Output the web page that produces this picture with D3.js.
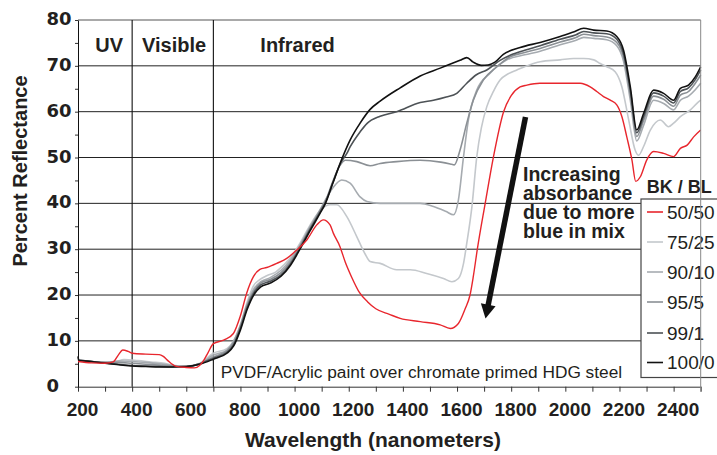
<!DOCTYPE html>
<html><head><meta charset="utf-8">
<script src="https://cdn.jsdelivr.net/npm/d3@7"></script>
<style>body{margin:0;background:#fff;} svg{display:block;}</style>
</head><body><svg id="c" width="717" height="455"></svg>
<script>
// ---------- DATA ----------
const seriesNames = ["50/50", "75/25", "90/10", "95/5", "99/1", "100/0"];
const seriesColors = ["#e8262d", "#c4c8cc", "#a6abb0", "#8b9095", "#4d5256", "#111111"];
const xTicks = d3.range(200, 2501, 100);
const xTickLabels = [200, 400, 600, 800, 1000, 1200, 1400, 1600, 1800, 2000, 2200, 2400];
const yTicks = d3.range(0, 81, 5);
const yTickLabels = [0, 10, 20, 30, 40, 50, 60, 70, 80];
const yGridValues = [10, 20, 30, 40, 50, 60, 70, 80];
const regionLines = [400, 700];
const regionNames = ["UV", "Visible", "Infrared"];
const regionCenters = [315, 555, 1011];
const noteLines = ["Increasing", "absorbance", "due to more", "blue in mix"];

const bl5050 = [[200,5.5],[250,5.2],[300,5.1],[330,5.4],[350,7.0],[365,8.0],[385,7.7],[400,7.3],[450,7.1],[500,7.0],[515,6.6],[530,5.8],[560,4.5],[600,4.2],[630,4.1],[650,4.7],[665,5.8],[680,7.4],[700,9.4],[740,10.2],[774,11.6],[799,15.3],[823,20.4],[848,24.0],[872,25.6],[897,26.0],[934,26.9],[971,28.0],[1008,29.8],[1045,32.0],[1082,35.3],[1106,36.4],[1131,35.3],[1143,33.5],[1168,30.5],[1187,27.2],[1210,24.0],[1240,20.5],[1270,18.5],[1300,17.0],[1350,15.8],[1390,14.9],[1464,14.2],[1538,13.5],[1575,12.7],[1605,13.8],[1630,17.0],[1648,20.0],[1660,24.0],[1675,30.0],[1704,40.0],[1734,50.0],[1772,60.0],[1800,63.5],[1833,65.4],[1858,65.8],[1906,66.2],[1981,66.2],[2055,66.2],[2092,65.4],[2116,64.4],[2141,63.3],[2166,62.5],[2190,61.5],[2209,58.9],[2227,54.5],[2246,49.5],[2260,44.8],[2277,45.8],[2301,49.5],[2326,51.3],[2363,50.9],[2400,50.2],[2425,52.0],[2450,52.7],[2474,54.5],[2500,56.0]];

const bl7525 = [[200,5.7],[250,5.4],[300,5.2],[340,5.5],[370,5.9],[420,5.7],[470,5.4],[520,5.1],[560,4.6],[600,4.4],[650,5.1],[700,7.3],[750,8.3],[775,10.0],[800,13.5],[825,18.5],[848,22.0],[870,23.3],[897,24.2],[930,25.0],[959,26.5],[990,28.5],[1020,31.3],[1045,34.0],[1069,36.4],[1100,38.8],[1131,39.7],[1156,39.7],[1193,37.1],[1230,32.7],[1260,29.0],[1279,27.3],[1316,26.9],[1377,25.5],[1427,25.5],[1488,24.7],[1550,23.6],[1581,22.9],[1605,23.6],[1624,26.9],[1636,31.3],[1655,39.3],[1673,50.2],[1690,56.5],[1710,61.1],[1735,64.5],[1759,66.9],[1790,68.3],[1821,69.1],[1882,70.5],[1907,70.9],[1981,71.3],[2030,71.6],[2068,71.6],[2105,71.3],[2129,70.5],[2153,69.8],[2184,68.7],[2209,65.4],[2234,58.2],[2258,51.6],[2271,50.5],[2289,52.4],[2314,56.0],[2351,58.2],[2381,56.7],[2400,57.5],[2425,58.9],[2462,60.4],[2486,61.8],[2500,62.5]];

const bl9010 = [[200,5.8],[250,5.5],[300,5.3],[350,5.6],[400,5.5],[450,5.3],[500,5.0],[550,4.6],[600,4.4],[650,5.0],[700,6.9],[750,8.0],[775,10.0],[800,13.4],[825,18.1],[850,21.4],[875,22.9],[910,23.8],[950,25.4],[985,27.7],[1020,30.9],[1057,34.9],[1094,38.6],[1120,41.4],[1143,43.5],[1174,45.1],[1205,44.4],[1242,41.4],[1267,40.4],[1316,40.0],[1390,40.0],[1464,40.0],[1513,39.3],[1560,38.2],[1587,37.5],[1605,40.7],[1624,50.2],[1642,58.2],[1673,64.7],[1722,68.4],[1784,71.3],[1850,72.4],[1907,73.2],[1981,74.6],[2040,75.6],[2068,76.2],[2105,76.0],[2153,75.7],[2190,74.4],[2215,71.0],[2240,62.5],[2264,53.6],[2289,57.0],[2326,62.5],[2363,61.8],[2400,60.4],[2425,62.5],[2455,63.4],[2480,64.8],[2500,66.2]];

const bl955 = [[200,5.8],[250,5.5],[300,5.3],[350,5.3],[400,5.1],[450,4.9],[500,4.7],[550,4.5],[600,4.4],[650,5.0],[700,6.5],[750,7.8],[775,9.6],[800,13.2],[825,17.8],[850,20.9],[875,22.6],[910,23.4],[950,24.9],[985,27.2],[1020,30.6],[1057,34.6],[1094,38.4],[1114,40.5],[1140,44.6],[1165,48.0],[1187,49.4],[1230,49.1],[1279,48.2],[1316,48.7],[1377,49.1],[1464,49.4],[1540,49.0],[1575,48.6],[1590,48.4],[1611,51.6],[1636,57.5],[1660,62.5],[1697,66.9],[1747,69.8],[1796,72.0],[1850,72.9],[1907,73.8],[1981,75.2],[2040,76.2],[2068,76.9],[2105,76.6],[2153,76.3],[2190,75.1],[2215,71.9],[2240,63.8],[2264,54.6],[2289,58.1],[2326,63.4],[2363,62.7],[2400,61.2],[2425,63.6],[2455,64.4],[2480,66.2],[2500,68.0]];

const bl991 = [[200,5.8],[250,5.5],[300,5.2],[350,4.9],[400,4.6],[450,4.5],[500,4.4],[550,4.3],[600,4.4],[650,5.0],[700,6.2],[750,7.5],[775,9.2],[800,12.8],[825,17.3],[850,20.5],[875,22.2],[910,23.0],[950,24.4],[985,26.8],[1020,30.3],[1057,34.3],[1094,38.1],[1114,40.2],[1140,44.3],[1170,48.8],[1193,50.9],[1205,52.3],[1242,55.6],[1267,57.4],[1316,59.0],[1377,60.0],[1464,62.0],[1513,62.5],[1560,63.2],[1599,64.0],[1636,66.2],[1670,68.0],[1710,69.1],[1759,71.2],[1800,72.4],[1850,73.4],[1907,74.4],[1981,75.8],[2040,76.8],[2068,77.5],[2105,77.2],[2153,77.0],[2190,75.8],[2215,72.6],[2240,64.6],[2264,55.4],[2289,58.9],[2326,64.1],[2363,63.4],[2400,61.9],[2425,64.4],[2455,65.2],[2480,67.0],[2500,69.1]];

const bl1000 = [[200,6.6],[203,5.7],[250,5.5],[300,5.1],[350,4.8],[400,4.5],[450,4.4],[500,4.3],[550,4.3],[600,4.4],[650,4.9],[700,6.0],[750,7.3],[775,8.9],[800,12.4],[825,16.9],[850,20.1],[875,21.8],[910,22.6],[950,24.1],[985,26.5],[1020,30.0],[1057,34.0],[1094,37.8],[1114,40.0],[1140,44.2],[1174,49.6],[1205,53.8],[1242,57.5],[1279,60.5],[1316,62.3],[1390,65.2],[1464,67.8],[1538,69.5],[1611,71.2],[1636,71.8],[1660,70.8],[1690,70.1],[1715,70.2],[1740,70.8],[1771,72.5],[1833,74.0],[1907,75.1],[1981,76.4],[2030,77.4],[2068,78.2],[2105,77.8],[2153,77.6],[2190,76.4],[2215,73.4],[2240,65.4],[2264,56.0],[2289,59.6],[2326,64.7],[2363,64.0],[2400,62.5],[2425,65.1],[2455,65.8],[2480,67.6],[2500,69.8]];

const seriesData = [bl5050, bl7525, bl9010, bl955, bl991, bl1000];

// ---------- CHART ----------
const M = {l: 78, r: 700.7, t: 20, b: 386.7};
const x = d3.scaleLinear().domain([200, 2500]).range([M.l, M.r]);
const y = d3.scaleLinear().domain([0, 80]).range([M.b, M.t]);
const svg = d3.select("#c");
const ink = "#231f20";
const boldF = "'Liberation Sans', Arial, sans-serif";

// horizontal gridlines
svg.append("g").selectAll("line").data(yGridValues).join("line")
  .attr("x1", M.l).attr("x2", M.r)
  .attr("y1", d => y(d)).attr("y2", d => y(d))
  .attr("stroke", d => d === 80 ? "#555" : "#222").attr("stroke-width", 1);

// region separators
svg.append("g").selectAll("line").data(regionLines).join("line")
  .attr("x1", d => x(d)).attr("x2", d => x(d))
  .attr("y1", y(0)).attr("y2", y(80))
  .attr("stroke", "#111").attr("stroke-width", 1.1);

// x axis
const xAxis = svg.append("g").attr("transform", `translate(0,${M.b})`)
  .call(d3.axisBottom(x).tickValues(xTicks).tickSize(5).tickSizeOuter(0)
    .tickFormat(d => xTickLabels.includes(d) ? d : ""));
xAxis.select(".domain").attr("stroke", "#333");
xAxis.selectAll(".tick line").attr("stroke", "#333");
xAxis.selectAll("text").attr("y", 29.8).attr("dy", null).attr("dx", 4)
  .attr("fill", ink).style("font", `bold 19px ${boldF}`);

// y axis
const yAxis = svg.append("g").attr("transform", `translate(${M.l},0)`)
  .call(d3.axisLeft(y).tickValues(yTicks).tickSize(3).tickSizeOuter(0)
    .tickFormat(d => yTickLabels.includes(d) ? d : ""));
yAxis.select(".domain").attr("stroke", "#111");
yAxis.selectAll(".tick line").attr("stroke", "#333");
yAxis.selectAll("text").attr("x", 46.5 - M.l).attr("dy", null).attr("y", 4.5)
  .attr("text-anchor", "start").attr("fill", ink)
  .style("font", "bold 18px 'DejaVu Sans', sans-serif");

// axis titles
svg.append("text").attr("transform", "translate(26.5,171) rotate(-90)")
  .attr("text-anchor", "middle").attr("fill", ink)
  .style("font", `bold 20px ${boldF}`).text("Percent Reflectance");
svg.append("text").attr("x", 373).attr("y", 447)
  .attr("text-anchor", "middle").attr("fill", ink)
  .style("font", `bold 21px ${boldF}`).text("Wavelength (nanometers)");

// region names
svg.append("g").selectAll("text").data(regionNames).join("text")
  .attr("x", (d, i) => x(regionCenters[i])).attr("y", 51.7)
  .attr("text-anchor", "middle").attr("fill", ink)
  .style("font", `bold 20px ${boldF}`).text(d => d);

// curves (grays first, red on top)
const line = d3.line().x(d => x(d[0])).y(d => y(d[1])).curve(d3.curveMonotoneX);
const order = [1, 2, 3, 4, 5, 0];
svg.append("g").selectAll("path").data(order).join("path")
  .attr("d", i => line(seriesData[i]))
  .attr("fill", "none").attr("stroke", i => seriesColors[i])
  .attr("stroke-width", i => i === 0 ? 1.4 : 1.6)
  .attr("stroke-linejoin", "round");

// footnote
svg.append("text").attr("x", 220.7).attr("y", 378).attr("fill", ink)
  .style("font", `17.3px ${boldF}`)
  .text("PVDF/Acrylic paint over chromate primed HDG steel");

// arrow
const tail = [525.5, 117], tip = [485.5, 318.5];
const dx = tip[0] - tail[0], dy = tip[1] - tail[1], L = Math.hypot(dx, dy);
const ux = dx / L, uy = dy / L, px = -uy, py = ux;
const base = [tip[0] - 14 * ux, tip[1] - 14 * uy];
svg.append("line").attr("x1", tail[0]).attr("y1", tail[1])
  .attr("x2", base[0] + 3 * ux).attr("y2", base[1] + 3 * uy)
  .attr("stroke", "#111").attr("stroke-width", 5.5);
svg.append("path")
  .attr("d", `M${tip[0]},${tip[1]} L${base[0] + 7.5 * px},${base[1] + 7.5 * py} L${base[0] - 7.5 * px},${base[1] - 7.5 * py} Z`)
  .attr("fill", "#111");

// annotation text (one text block, four lines)
const note = svg.append("text").attr("x", 523).attr("y", 181)
  .attr("fill", ink).style("font", `bold 19.5px ${boldF}`);
note.selectAll("tspan").data(noteLines).join("tspan")
  .attr("x", 523).attr("dy", (d, i) => i === 0 ? 0 : 19).text(d => d);

svg.append("text").attr("x", 646.7).attr("y", 192.7).attr("fill", ink)
  .style("font", `bold 18px ${boldF}`).text("BK / BL");

// legend
const lg = svg.append("g");
lg.append("rect").attr("x", 641).attr("y", 199).attr("width", 100).attr("height", 178.5)
  .attr("fill", "#fff").attr("stroke", "#444").attr("stroke-width", 1.2);
const legendY = [212, 242, 272, 302, 333, 362.5];
const items = lg.selectAll("g.item").data(seriesNames).join("g").attr("class", "item")
  .attr("transform", (d, i) => `translate(0,${legendY[i]})`);
items.append("line").attr("x1", 647).attr("x2", 663).attr("y1", 0).attr("y2", 0)
  .attr("stroke", (d, i) => seriesColors[i]).attr("stroke-width", 1.6);
items.append("text").attr("x", 667).attr("y", 6.8).attr("fill", ink)
  .style("font", `19px ${boldF}`).text(d => d);

// right border on top
svg.append("line").attr("x1", M.r).attr("x2", M.r).attr("y1", M.t).attr("y2", M.b + 5)
  .attr("stroke", "#888").attr("stroke-width", 1);
</script></body></html>
